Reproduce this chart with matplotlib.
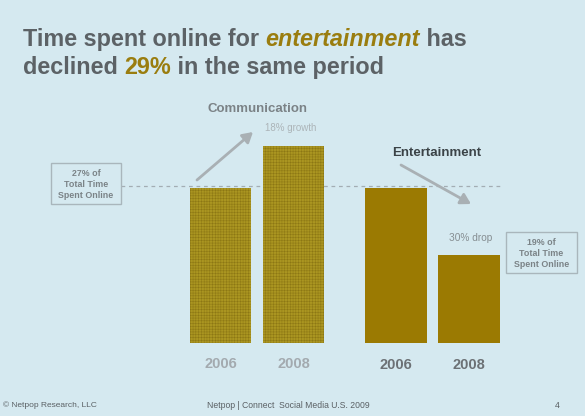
import matplotlib
matplotlib.use("Agg")
import matplotlib.pyplot as plt
from matplotlib.transforms import Affine2D
from matplotlib.patches import Rectangle, FancyArrowPatch

# ---- data ----
groups = ["Communication", "Communication", "Entertainment", "Entertainment"]
years = ["2006", "2008", "2006", "2008"]
values = [27.0, 34.3, 27.0, 15.4]          # bar heights, % of total time (as drawn)
change_labels = ["18% growth", "30% drop"]
share_labels = ["27% of\nTotal Time\nSpent Online", "19% of\nTotal Time\nSpent Online"]

W, H = 585, 416
BG = "#d5e9f0"
plt.rcParams["font.family"] = ["Liberation Sans", "DejaVu Sans"]
plt.rcParams["hatch.linewidth"] = 0.35

fig = plt.figure(figsize=(W / 100, H / 100), dpi=100, facecolor=BG)
PX = Affine2D().scale(1 / W, -1 / H).translate(0, 1) + fig.transFigure

# full-figure axes; bars are drawn in data units
ax = fig.add_axes([0, 0, 1, 1])
ax.set_facecolor(BG)
ax.axis("off")
unit_px = 73.0
x0_px = 220.5
base_px = 73.0
val_px = 155.0 / 27.0
ax.set_xlim(-x0_px / unit_px, (W - x0_px) / unit_px)
ax.set_ylim(-base_px / val_px, (H - base_px) / val_px)

xpos = [0.0, 1.0, 2.404, 3.404]
width = 0.836
comm_idx = [i for i, g in enumerate(groups) if g == "Communication"]
ent_idx = [i for i, g in enumerate(groups) if g == "Entertainment"]
ax.bar([xpos[i] for i in comm_idx], [values[i] for i in comm_idx], width=width,
       color="#aa9521", edgecolor="#8c7714", linewidth=0, hatch="+" * 6, zorder=2)
ax.bar([xpos[i] for i in ent_idx], [values[i] for i in ent_idx], width=width,
       color="#9b7a02", linewidth=0, zorder=2)

# dashed reference line at the 2006 level
ax.plot([(121 - x0_px) / unit_px, (503 - x0_px) / unit_px], [values[0] + 0.35] * 2,
        ls=(0, (3, 3)), color="#a3adb3", lw=0.9, zorder=1)

# year labels
for i, (x, y) in enumerate(zip(xpos, years)):
    col = "#a3aaaf" if groups[i] == "Communication" else "#6c7175"
    ax.text(x, -3.7 if groups[i] == "Communication" else -3.9, y, ha="center", va="center",
            fontsize=10.5, fontweight="bold", color=col)

# ---- title with mixed colours ----
renderer = fig.canvas.get_renderer()
def runs(parts, x, y):
    for txt, col, style in parts:
        t = fig.text(x, y, txt, transform=PX, fontsize=16.8, fontweight="bold",
                     color=col, style=style, va="baseline", ha="left")
        x += t.get_window_extent(renderer).width
GRAY = "#5c6266"
GOLD = "#9a7d0f"
runs([("Time spent online for ", GRAY, "normal"), ("entertainment", GOLD, "italic"),
      (" has", GRAY, "normal")], 23, 46)
runs([("declined ", GRAY, "normal"), ("29%", GOLD, "normal"),
      (" in the same period", GRAY, "normal")], 23, 74)

# ---- group headings and change labels ----
fig.text(258, 109, groups[0], transform=PX, ha="center", va="center", fontsize=9.5,
         fontweight="bold", color="#7b8286")
fig.text(437, 153, groups[2], transform=PX, ha="center", va="center", fontsize=9.5,
         fontweight="bold", color="#3b4347")
fig.text(291, 128, change_labels[0], transform=PX, ha="center", va="center", fontsize=7,
         color="#acb4b8")
fig.text(471, 238, change_labels[1], transform=PX, ha="center", va="center", fontsize=7.3,
         color="#868e92")

# arrows
for (xa, ya), (xb, yb) in [((197, 180), (253, 132)), ((401, 165), (471, 204))]:
    fig.patches.append(FancyArrowPatch((xa, ya), (xb, yb), transform=PX,
                                       arrowstyle="-|>,head_length=6,head_width=3.5",
                                       color="#a9b0b4", lw=2.0, shrinkA=0, shrinkB=0))

# share boxes
for (bx0, by0, bx1, by1), lab in zip([(51, 163, 121, 204), (506, 232, 577, 273)], share_labels):
    fig.patches.append(Rectangle((bx0, by1), bx1 - bx0, by0 - by1, transform=PX,
                                 facecolor=BG, edgecolor="#a9b6bc", lw=1.0))
    fig.text((bx0 + bx1) / 2, (by0 + by1) / 2 + 1, lab, transform=PX, ha="center", va="center",
             fontsize=6.4, fontweight="bold", color="#7b8387", linespacing=1.35)

# footer
fig.text(3, 405, "\u00a9 Netpop Research, LLC", transform=PX, ha="left", va="center",
         fontsize=6.0, color="#5a6064")
fig.text(288, 406, "Netpop | Connect  Social Media U.S. 2009", transform=PX, ha="center",
         va="center", fontsize=6.2, color="#5a6064")
fig.text(557, 406, "4", transform=PX, ha="center", va="center", fontsize=6.2, color="#5a6064")

fig.savefig("out.png", dpi=100, facecolor=BG)
